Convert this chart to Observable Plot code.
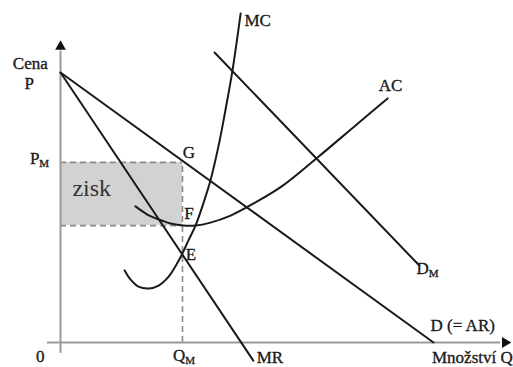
<!DOCTYPE html>
<html>
<head>
<meta charset="utf-8">
<script src="https://cdn.jsdelivr.net/npm/d3@7"></script>
<script src="https://cdn.jsdelivr.net/npm/@observablehq/plot@0.6"></script>
<style>
  html, body { margin: 0; padding: 0; background: #fff; }
</style>
</head>
<body>
<div id="chart"></div>
<script>
// Quantity (Q) and price (P) values
const qD = [0, 100];              // demand D (= AR)
const pD = [100, 0];
const qMR = [0, 51.7];            // marginal revenue
const pMR = [100, -6.7];
const qDM = [41.3, 96.2];         // shifted demand D_M
const pDM = [107.4, 28.5];
const qMC = [17.2, 18.8, 20.9, 23.6, 26.3, 29.0, 31.1, 32.7, 34.3, 36.2, 38.1, 40.2, 42.4, 44.2, 46.1, 48.3];
const pMC = [26.7, 23.3, 20.7, 20.0, 21.1, 24.4, 28.9, 33.0, 37.8, 43.3, 50.7, 60.0, 73.0, 85.9, 100.7, 121.9];
const qAC = [20.1, 23.3, 26.3, 29.5, 33.0, 36.2, 40.2, 45.6, 52.3, 59.5, 68.9, 79.1, 87.7];
const pAC = [50.4, 47.4, 45.6, 44.1, 43.3, 43.3, 44.4, 47.0, 51.9, 58.0, 68.5, 80.4, 90.4];
const qM = 32.7;                  // monopoly quantity
const pM = 66.7;                  // monopoly price (G)
const acAtQM = 43.3;              // average cost at Q_M (F)
const mcAtQM = 33.0;              // E

const zip = (xs, ys) => xs.map((x, i) => ({q: x, p: ys[i]}));
const D = zip(qD, pD), MR = zip(qMR, pMR), DM = zip(qDM, pDM);
const MC = zip(qMC, pMC), AC = zip(qAC, pAC);

const font = "Liberation Serif, Times New Roman, serif";
const ink = "#1a1a1a";

const startLabels = [
  {q: 49.3, p: 119.3, t: "MC"},
  {q: 85.3, p: 95.2, t: "AC"},
  {q: 99.2, p: 6.3, t: "D (= AR)"},
  {q: 99.6, p: -5.6, t: "Množství Q"},
  {q: 52.6, p: -5.6, t: "MR"},
  {q: qM + 0.1, p: pM + 3.6, t: "G"},
  {q: qM + 0.5, p: acAtQM + 4.6, t: "F"},
  {q: qM + 0.9, p: mcAtQM - 0.4, t: "E"}
];
const midLabels = [
  {q: -5.4, p: -5.2, t: "0"},
  {q: -8.1, p: 103.3, t: "Cena"},
  {q: -8.4, p: 96.0, t: "P"}
];
const subLabels = [
  {q: -6.2, p: pM + 1.3, t: "P", s: "M"},
  {q: qM + 0.2, p: -4.8, t: "Q", s: "M"},
  {q: 98.2, p: 27.4, t: "D", s: "M"}
];

const txt = {x: "q", y: "p", text: "t", fontFamily: font, fontSize: 17, fill: ink, stroke: ink, strokeWidth: 0.35};

const plot = Plot.plot({
  width: 513,
  height: 367,
  marginTop: 0, marginBottom: 0, marginLeft: 0, marginRight: 0,
  x: {domain: [-60 / 3.73, 453 / 3.73], axis: null},
  y: {domain: [-25 / 2.7, 342 / 2.7], axis: null},
  style: {background: "#fff"},
  marks: [
    // profit rectangle
    Plot.rect([{x1: 0, x2: qM, y1: acAtQM, y2: pM}], {x1: "x1", x2: "x2", y1: "y1", y2: "y2", fill: "#d2d2d2"}),
    // dashed guides
    Plot.ruleY([pM, acAtQM], {x1: 0, x2: qM, stroke: "#8c8c8c", strokeWidth: 1.6, strokeDasharray: "6,4"}),
    Plot.ruleX([qM], {y1: 0, y2: pM, stroke: "#8c8c8c", strokeWidth: 1.6, strokeDasharray: "6,4"}),
    // axes
    Plot.ruleX([0], {y1: -4, y2: 108, stroke: "#9a9a9a", strokeWidth: 2}),
    Plot.ruleY([0], {x1: -3.5, x2: 118, stroke: "#9a9a9a", strokeWidth: 2}),
    Plot.dot([{q: 0, p: 109.6}], {x: "q", y: "p", symbol: "triangle", r: 4, fill: "#111", stroke: null}),
    Plot.dot([{q: 119.2, p: 0}], {x: "q", y: "p", symbol: "triangle", r: 4, fill: "#111", stroke: null, rotate: 90}),
    // curves
    Plot.line(D, {x: "q", y: "p", stroke: ink, strokeWidth: 2}),
    Plot.line(MR, {x: "q", y: "p", stroke: ink, strokeWidth: 2}),
    Plot.line(DM, {x: "q", y: "p", stroke: ink, strokeWidth: 2}),
    Plot.line(MC, {x: "q", y: "p", stroke: ink, strokeWidth: 2, curve: "catmull-rom"}),
    Plot.line(AC, {x: "q", y: "p", stroke: ink, strokeWidth: 2, curve: "catmull-rom"}),
    // labels
    Plot.text(startLabels, {...txt, textAnchor: "start"}),
    Plot.text(midLabels, {...txt, textAnchor: "middle"}),
    Plot.text([{q: 3.2, p: 57, t: "zisk"}], {x: "q", y: "p", text: "t", textAnchor: "start", fontFamily: font, fontSize: 24, fill: "#333"}),
    Plot.text(subLabels, {...txt, textAnchor: "end", dx: 2}),
    Plot.text(subLabels, {...txt, text: "s", textAnchor: "start", dx: 2, dy: 5, fontSize: 11})
  ]
});
document.getElementById("chart").appendChild(plot);
</script>
</body>
</html>
